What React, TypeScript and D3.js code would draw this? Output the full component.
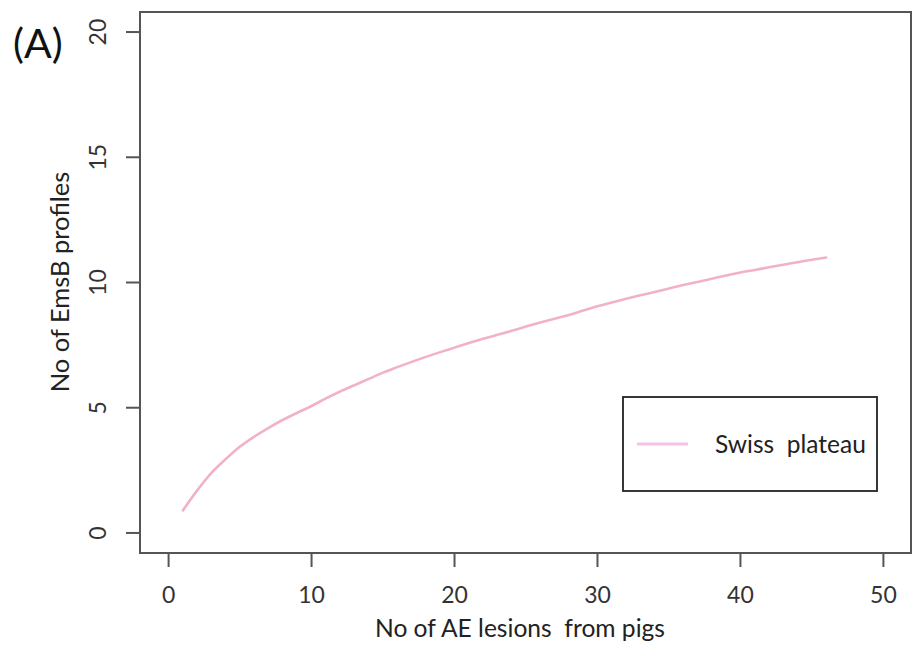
import React from "react";
import * as d3 from "d3";

const lesions: number[] = [1,2,3,4,5,6,7,8,9,10,11,12,13,14,15,16,17,18,19,20,21,22,23,24,25,26,27,28,29,30,31,32,33,34,35,36,37,38,39,40,41,42,43,44,45,46];
const profiles: number[] = [0.9,1.7,2.4,2.95,3.45,3.85,4.2,4.52,4.8,5.07,5.37,5.65,5.9,6.15,6.4,6.62,6.83,7.03,7.22,7.4,7.58,7.75,7.91,8.07,8.24,8.4,8.55,8.7,8.88,9.05,9.2,9.35,9.49,9.62,9.76,9.9,10.02,10.15,10.28,10.4,10.5,10.61,10.71,10.81,10.91,11.0];
const xTicks: number[] = [0, 10, 20, 30, 40, 50];
const yTicks: number[] = [0, 5, 10, 15, 20];
const seriesName = "Swiss  plateau";
const xTitle = "No of AE lesions  from pigs";
const yTitle = "No of EmsB profiles";
const panelLabel = "(A)";

const W = 912;
const H = 646;
const FONT = "Lato, 'Open Sans', sans-serif";
const AXIS = "#555";

export default function App() {
  const x = d3.scaleLinear().domain([-2, 52]).range([140, 912]);
  const y = d3.scaleLinear().domain([-0.8, 20.8]).range([553, 12]);
  const pts: [number, number][] = lesions.map((l, i) => [l, profiles[i]]);
  const line = d3
    .line<[number, number]>()
    .x((d) => x(d[0]))
    .y((d) => y(d[1]))
    .curve(d3.curveMonotoneX);

  const left = x(-2);
  const right = x(52) - 1;
  const top = y(20.8);
  const bottom = y(-0.8);

  return (
    <svg
      width={W}
      height={H}
      viewBox={`0 0 ${W} ${H}`}
      style={{ position: "fixed", left: 0, top: 0, background: "#fff" }}
    >
      <rect x={0} y={0} width={W} height={H} fill="#fff" />
      <path d={line(pts) || ""} fill="none" stroke="#f1b3c4" strokeWidth={2.6} strokeLinecap="round" />
      <rect x={left} y={top} width={right - left} height={bottom - top} fill="none" stroke={AXIS} strokeWidth={2} />
      {xTicks.map((t) => (
        <g key={"x" + t}>
          <line x1={x(t)} x2={x(t)} y1={bottom} y2={bottom + 14} stroke={AXIS} strokeWidth={2} />
          <text x={x(t)} y={603} textAnchor="middle" fontFamily={FONT} fontSize={23} fill="#333">
            {t}
          </text>
        </g>
      ))}
      {yTicks.map((t) => (
        <g key={"y" + t}>
          <line x1={left - 14} x2={left} y1={y(t)} y2={y(t)} stroke={AXIS} strokeWidth={2} />
          <text
            transform={`translate(106,${y(t)}) rotate(-90)`}
            textAnchor="middle"
            fontFamily={FONT}
            fontSize={23}
            fill="#333"
          >
            {t}
          </text>
        </g>
      ))}
      <text x={520} y={637} textAnchor="middle" fontFamily={FONT} fontSize={24.6} fill="#222" style={{ whiteSpace: "pre" }}>
        {xTitle}
      </text>
      <text
        transform={`translate(69,282) rotate(-90)`}
        textAnchor="middle"
        fontFamily={FONT}
        fontSize={25.5}
        fill="#222"
      >
        {yTitle}
      </text>
      <text x={13} y={58} fontFamily={FONT} fontSize={41} fill="#111">
        {panelLabel}
      </text>
      <rect x={623} y={397} width={254} height={94} fill="#fff" stroke="#222" strokeWidth={1.8} />
      <line x1={637} x2={688} y1={444} y2={444} stroke="#f3c3ec" strokeWidth={3} />
      <text x={715} y={453} fontFamily={FONT} fontSize={24.5} fill="#222" style={{ whiteSpace: "pre" }}>
        {seriesName}
      </text>
    </svg>
  );
}
